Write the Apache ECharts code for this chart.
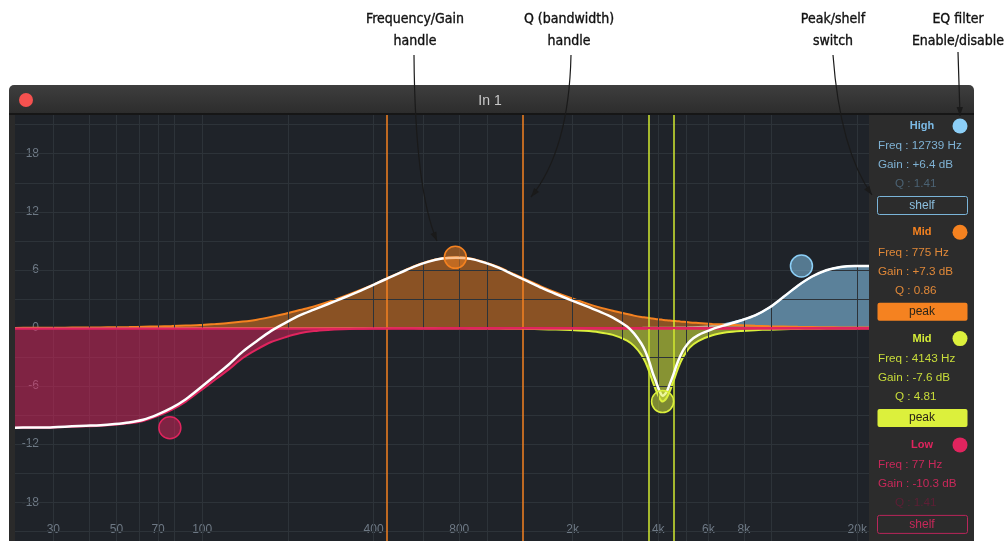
<!DOCTYPE html>
<html><head><meta charset="utf-8">
<script src="https://cdn.jsdelivr.net/npm/echarts@6/dist/echarts.min.js"></script>
<style>html,body{margin:0;padding:0;background:#fff;}#c{width:1007px;height:541px;}</style>
</head><body><div id="c"></div>
<script>
// ---------- data ----------
const freqs = [22,24.7,27.7,31.1,34.9,39.1,43.9,49.3,55.3,62,
  69.6,78.1,87.6,98.3,110.3,123.7,138.8,155.7,174.7,196.1,
  220,246.8,276.9,310.8,348.7,391.2,438.9,492.5,552.6,620,
  695.7,780.6,875.8,982.7,1103,1237,1388,1557,1748,1961,
  2200,2469,2770,3108,3287,3487,3608,3727,3817,3912,
  4041,4143,4277,4390,4525,4655,4789,4925,5170,5526,
  6201,6957,7806,8758,9827,11026,12372,13881,15575,17475,
  19608,22000];
const lowShelf = [-10.3,-10.3,-10.3,-10.25,-10.2,-10.15,-10.1,-10.0,-9.85,-9.6,
  -9.1,-8.45,-7.6,-6.5,-5.4,-4.3,-3.1,-2.2,-1.45,-0.95,
  -0.55,-0.32,-0.2,-0.13,-0.09,-0.06,-0.04,-0.03,-0.02,-0.02,
  -0.01,-0.01,0,0,0,0,0,0,0,0,
  0,0,0,0,0,0,0,0,0,0,
  0,0,0,0,0,0,0,0,0,0,
  0,0,0,0,0,0,0,0,0,0,
  0,0];
const midOrange = [0.01,0.02,0.02,0.03,0.04,0.05,0.06,0.08,0.1,0.13,
  0.16,0.2,0.25,0.3,0.4,0.51,0.66,0.86,1.15,1.48,
  1.85,2.22,2.68,3.2,3.77,4.38,5.05,5.7,6.35,6.87,
  7.2,7.3,7.18,6.8,6.27,5.6,4.95,4.28,3.67,3.12,
  2.62,2.16,1.78,1.44,1.28,1.14,1.08,1.02,0.97,0.94,
  0.89,0.85,0.8,0.77,0.73,0.7,0.67,0.64,0.58,0.52,
  0.42,0.34,0.28,0.22,0.18,0.15,0.12,0.1,0.08,0.06,
  0.05,0.04];
const midYellow = [0,0,0,0,0,0,0,0,0,0,
  0,0,0,0,0,0,0,0,0,0,
  0,0,0,0,0,0,0,-0.01,-0.01,-0.02,
  -0.02,-0.03,-0.04,-0.05,-0.06,-0.08,-0.1,-0.13,-0.16,-0.21,
  -0.29,-0.43,-0.71,-1.3,-1.85,-2.75,-3.55,-4.6,-5.5,-6.3,
  -7.25,-7.6,-7.25,-6.55,-5.5,-4.45,-3.55,-2.85,-2.0,-1.35,
  -0.75,-0.45,-0.3,-0.22,-0.17,-0.13,-0.1,-0.08,-0.06,-0.05,
  -0.04,-0.03];
const highShelf = [0,0,0,0,0,0,0,0,0,0,
  0,0,0,0,0,0,0,0,0,0,
  0,0,0,0,0,0,0,0,0,0,
  0,0,0,0,0,0,0,0,0,0,
  0.01,0.01,0.01,0.01,0.01,0.01,0.02,0.02,0.02,0.02,
  0.02,0.03,0.03,0.03,0.03,0.04,0.04,0.05,0.07,0.1,
  0.22,0.45,0.8,1.3,2.1,3.2,4.35,5.3,5.95,6.3,
  6.4,6.4];
const totalCurve = [-10.29,-10.28,-10.28,-10.22,-10.16,-10.1,-10.04,-9.92,-9.75,-9.47,
  -8.94,-8.25,-7.35,-6.2,-5.0,-3.79,-2.44,-1.34,-0.3,0.53,
  1.3,1.9,2.48,3.07,3.68,4.32,5.01,5.66,6.32,6.83,
  7.17,7.26,7.14,6.75,6.21,5.52,4.85,4.15,3.51,2.91,
  2.34,1.74,1.08,0.15,-0.56,-1.6,-2.45,-3.56,-4.55,-5.4,
  -6.5,-7.0,-6.6,-5.8,-4.76,-3.72,-2.85,-2.16,-1.35,-0.73,
  -0.11,0.34,0.78,1.3,2.11,3.22,4.37,5.32,5.97,6.31,
  6.41,6.41];

const bandNames = ['High','Mid','Mid','Low'];
const bandFreq = [12739, 775, 4143, 77];
const bandGain = [6.4, 7.3, -7.6, -10.3];
const bandQ = [1.41, 0.86, 4.81, 1.41];
const bandType = ['shelf','peak','peak','shelf'];
const orangeQLines = [444, 1338];
const yellowQLines = [3702, 4548];

const gridFreqs = [30,40,50,60,70,80,100,200,400,600,800,1000,2000,3000,4000,5000,6000,8000,10000,20000];
const gridDb = [-21,-18,-15,-12,-9,-6,-3,0,3,6,9,12,15,18,21];
const yTicks = [-18,-12,-6,0,6,12,18];
const xTicks = [30,50,70,100,400,800,2000,4000,6000,8000,20000];
const xTickLabels = ['30','50','70','100','400','800','2k','4k','6k','8k','20k'];

// ---------- styling ----------
const C = { high:'#8ccff7', orange:'#f58220', yellow:'#dcf03c', low:'#e0245e' };
const FONT = "'Liberation Sans', Arial, sans-serif";
const NARROW = "'Liberation Sans Narrow', 'DejaVu Sans Condensed', 'Roboto Condensed', 'Liberation Sans', sans-serif";

const pair = arr => freqs.map((f, i) => [f, arr[i]]);
function band(name, arr, color, fill, z, extra) {
  return Object.assign({
    type:'line', name, data: pair(arr), smooth: 0.3, symbol:'none', showSymbol:false,
    lineStyle:{color, width:2}, areaStyle:{color:fill, origin:'auto', opacity:1}, z, silent:true, animation:false
  }, extra || {});
}
const hexA = (hex, a) => {
  const n = parseInt(hex.slice(1), 16);
  return `rgba(${n>>16&255},${n>>8&255},${n&255},${a})`;
};
const bandColors = [C.high, C.orange, C.yellow, C.low];

const chart = echarts.init(document.getElementById('c'), null, {renderer:'canvas'});

// --------- graphic: window chrome, right panel, annotations ----------
const g = [];
g.push({type:'rect', shape:{x:9,y:85,width:965,height:29,r:[5,5,0,0]}, style:{fill:new echarts.graphic.LinearGradient(0,0,0,1,[{offset:0,color:'#3e3e3e'},{offset:1,color:'#2c2c2c'}])}, z:1});
g.push({type:'rect', shape:{x:9,y:113,width:965,height:2}, style:{fill:'#161616'}, z:1});
g.push({type:'circle', shape:{cx:26,cy:100,r:7}, style:{fill:'#f5514f'}, z:2});
g.push({type:'text', style:{text:'In 1', x:490, y:101, align:'center', verticalAlign:'middle', fill:'#c9c9c9', font:`14px ${FONT}`}, z:2});
g.push({type:'rect', shape:{x:9,y:115,width:6,height:426}, style:{fill:'#2a2a2a'}, z:1});
g.push({type:'rect', shape:{x:869,y:115,width:105,height:426}, style:{fill:'#2c2c2c'}, z:1});

const headCol = ['#7cbbe6', '#f58220', '#d6ee38', '#e0245e'];
const textCol = ['#7fb2d4', '#e08838', '#c9dd3a', '#c8285a'];
const qCol = ['#4b6273', '#e08838', '#c9dd3a', '#5e1f36'];
for (let i = 0; i < 4; i++) {
  const y0 = 126 + i * 106.3;
  g.push({type:'text', style:{text:bandNames[i], x:922, y:y0, align:'center', verticalAlign:'middle', fill:headCol[i], font:`bold 11px ${FONT}`}, z:3});
  g.push({type:'circle', shape:{cx:960, cy:y0, r:7.5}, style:{fill:bandColors[i]}, z:3});
  const gs = (bandGain[i] > 0 ? '+' : '') + bandGain[i].toFixed(1);
  g.push({type:'text', style:{text:`Freq : ${bandFreq[i]} Hz`, x:878, y:y0+20, align:'left', verticalAlign:'middle', fill:textCol[i], font:`11.7px ${FONT}`}, z:3});
  g.push({type:'text', style:{text:`Gain : ${gs} dB`, x:878, y:y0+39, align:'left', verticalAlign:'middle', fill:textCol[i], font:`11.7px ${FONT}`}, z:3});
  g.push({type:'text', style:{text:`Q : ${bandQ[i].toFixed(2)}`, x:895, y:y0+58, align:'left', verticalAlign:'middle', fill:qCol[i], font:`11.7px ${FONT}`}, z:3});
  const filled = bandType[i] === 'peak';
  g.push({type:'rect', shape:{x:877.5, y:y0+70.5, width:90, height:18, r:2},
    style: filled ? {fill:bandColors[i]} : {fill:'none', stroke: i===0 ? '#7ab4d8' : '#b8265a', lineWidth:1}, z:3});
  g.push({type:'text', style:{text:bandType[i], x:922, y:y0+79.5, align:'center', verticalAlign:'middle',
    fill: filled ? '#2a2418' : (i===0 ? '#8cc0e0' : '#c8285a'), font:`12px ${FONT}`}, z:4});
}

const ann = [
  {t:['Frequency/Gain','handle'], x:415},
  {t:['Q (bandwidth)','handle'], x:569},
  {t:['Peak/shelf','switch'], x:833},
  {t:['EQ filter','Enable/disable'], x:958}
];
ann.forEach(a => {
  a.t.forEach((s, k) => g.push({type:'text', style:{text:s, x:a.x, y:19 + k*22, align:'center', verticalAlign:'middle', fill:'#111111', stroke:'#111111', lineWidth:0.35, font:`14px ${NARROW}`}, z:10}));
});
function pointer(x1,y1,cx,cy,x2,y2) {
  g.push({type:'bezierCurve', shape:{x1,y1,x2,y2,cpx1:cx,cpy1:cy}, style:{stroke:'#1a1a1a', lineWidth:1.2, fill:null}, z:10, silent:true});
  const dx = x2 - cx, dy = y2 - cy, L = Math.hypot(dx, dy), ux = dx/L, uy = dy/L;
  const len = 9, w = 3.2;
  g.push({type:'polygon', shape:{points:[[x2,y2],[x2-ux*len-uy*w, y2-uy*len+ux*w],[x2-ux*len+uy*w, y2-uy*len-ux*w]]}, style:{fill:'#1a1a1a'}, z:10, silent:true});
}
pointer(414,55, 415,190, 437,241);
pointer(571,55, 569,150, 531,197);
pointer(833,55, 840,150, 872,195);
pointer(958,52, 959,80, 960,116);

// ---------- series ----------
const series = [
  {type:'scatter', data:[[1000,0]], symbolSize:0, silent:true, z:1, animation:false,
   markLine:{silent:true, symbol:['none','none'], label:{show:false}, animation:false,
     lineStyle:{color:'#2d3339', width:1, type:'solid'},
     data: gridFreqs.map(f => ({xAxis:f})).concat(gridDb.map(v => ({yAxis:v})))}},
  band('High', highShelf, C.high, hexA(C.high,0.55), 2),
  band('MidO', midOrange, C.orange, hexA(C.orange,0.5), 3),
  band('MidY', midYellow, C.yellow, hexA(C.yellow,0.55), 4),
  band('Low', lowShelf, C.low, hexA(C.low,0.5), 5, {
    markLine:{silent:true, symbol:['none','none'], label:{show:false}, animation:false,
      lineStyle:{color:C.low, width:2.5, type:'solid'}, data:[{yAxis:0}]}}),
  {type:'scatter', data:[[1000,0]], symbolSize:0, silent:true, z:6, animation:false,
   markLine:{silent:true, symbol:['none','none'], label:{show:false}, animation:false,
     data: orangeQLines.map(f => ({xAxis:f, lineStyle:{color:C.orange, width:1.5, type:'solid'}}))
       .concat(yellowQLines.map(f => ({xAxis:f, lineStyle:{color:'#d2ea30', width:1.5, type:'solid'}})))}},
  {type:'line', name:'Total', data: pair(totalCurve), smooth:0.3, symbol:'none', z:8, silent:true, animation:false,
   lineStyle:{color:'#ffffff', width:2.5}},
  {type:'scatter', z:9, silent:true, animation:false, symbolSize:22,
   data: bandFreq.map((f, i) => ({value:[f, bandGain[i]], itemStyle:{opacity:1, color:hexA(bandColors[i], 0.5), borderColor:bandColors[i], borderWidth:1.5}}))}
];

const nearestLabel = v => {
  let best = 0, bd = Infinity;
  xTicks.forEach((t, i) => { const d = Math.abs(Math.log(t) - Math.log(v)); if (d < bd) { bd = d; best = i; } });
  return xTickLabels[best];
};

chart.setOption({
  animation:false,
  backgroundColor:'#ffffff',
  grid:{left:15, right:138, top:115, bottom:0, show:true, backgroundColor:'#1f2329', borderWidth:0},
  xAxis:{type:'log', logBase:10, min:22, max:22000,
    axisLine:{show:false}, axisTick:{show:false}, splitLine:{show:false}, minorSplitLine:{show:false},
    axisLabel:{inside:true, margin:5, customValues:xTicks, color:'#6e7985', fontSize:12, fontFamily:FONT,
      formatter: v => nearestLabel(v)}},
  yAxis:{type:'value', min:-22, max:22,
    axisLine:{show:false}, axisTick:{show:false}, splitLine:{show:false},
    axisLabel:{inside:true, margin:24, align:'right', customValues:yTicks, color:'#6e7985', fontSize:12, fontFamily:FONT}},
  graphic: g,
  series
});
</script></body></html>
